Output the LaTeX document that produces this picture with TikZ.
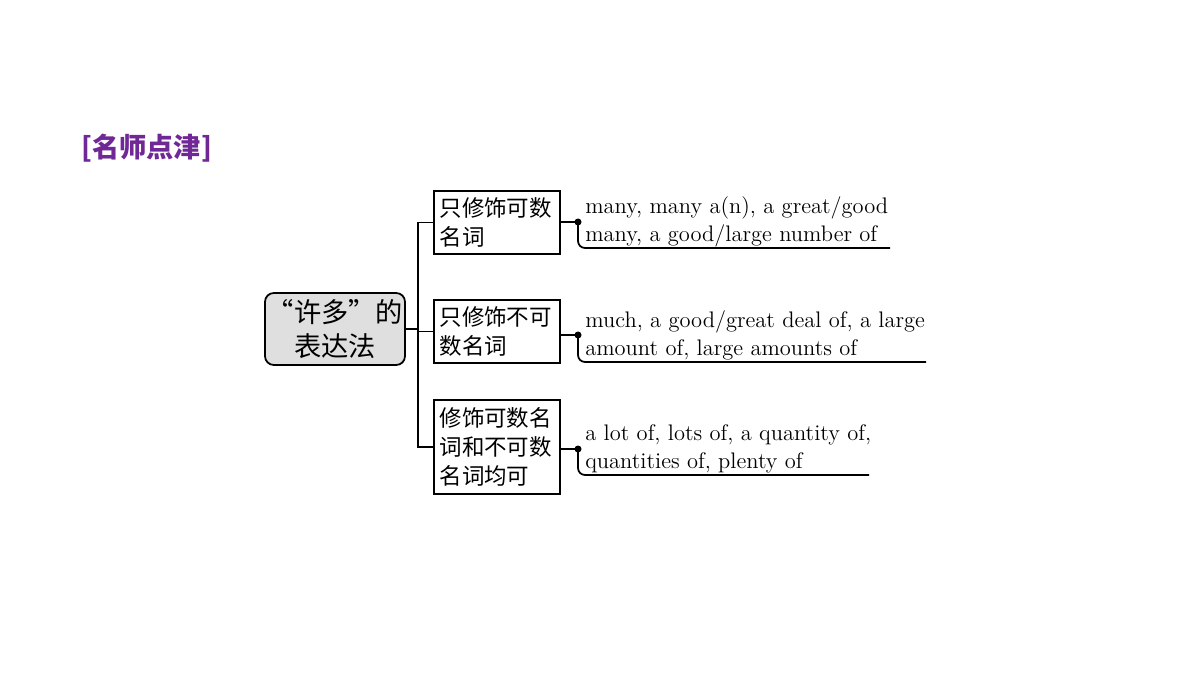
\documentclass[tikz,border=0pt]{standalone}
\usepackage{fontspec}
\newfontfamily\cjk{Noto Sans CJK SC}
\definecolor{ttl}{RGB}{112,40,150}
\begin{document}
\begin{tikzpicture}[x=0.02cm,y=-0.02cm,
  box/.style={draw,line width=1pt,align=left,inner sep=0pt},
  cn/.style={font=\cjk\fontsize{12.8}{16.5}\selectfont},
  en/.style={font=\fontsize{12.8}{16}\selectfont,align=left,anchor=west,inner sep=0pt},
  ln/.style={line width=1pt}]
\useasboundingbox (0,0) rectangle (1200,675);
\node[font=\cjk\fontsize{15.5}{18}\selectfont\bfseries,text=ttl,anchor=west] (title) at (75,148) {[名师点津]};
\node[draw,line width=1pt,rounded corners=5pt,fill=gray!25,inner sep=0pt,font=\cjk\fontsize{15.5}{19}\selectfont,align=center,minimum width=2.8cm,minimum height=1.44cm] (root) at (335,329) {“许多”的\\表达法};
\node[box,cn,minimum width=2.52cm,minimum height=1.26cm,text width=2.3cm] (b1) at (497,222.5) {只修饰可数\\名词};
\node[box,cn,minimum width=2.52cm,minimum height=1.26cm,text width=2.3cm] (b2) at (497,331.5) {只修饰不可\\数名词};
\node[box,cn,minimum width=2.52cm,minimum height=1.88cm,text width=2.3cm] (b3) at (497,447) {修饰可数名\\词和不可数\\名词均可};
\coordinate (j) at (418,329);
\draw[ln] (root.east) -- (j);
\draw[ln] (b1.west) -| (j) |- (b3.west);
\draw[ln] (b2.west) -- (b2.west -| j);
\foreach \b/\y/\t/\l/\e in {b1/222/{many, many a(n), a great/good\\many, a good/large number of}/248/890,
  b2/335/{much, a good/great deal of, a large\\amount of, large amounts of}/362/926,
  b3/449/{a lot of, lots of, a quantity of,\\quantities of, plenty of}/475/869}{
  \coordinate (d\b) at (578,\y);
  \draw[ln] (\b.east|-d\b) -- (d\b);
  \fill (d\b) circle (3.5);
  \node[en] (t\b) at (585,\y) {\t};
  \draw[ln,rounded corners=4pt] (d\b) -- (578,\l) -- (\e,\l);
}
\end{tikzpicture}
\end{document}
